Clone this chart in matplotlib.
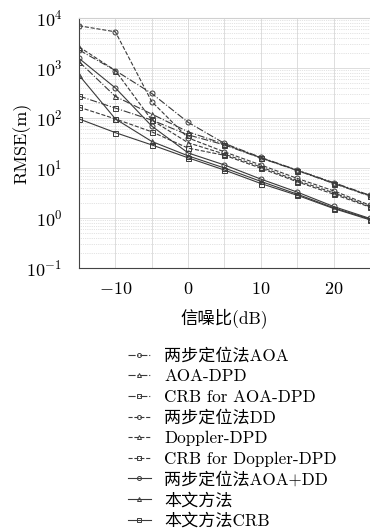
"""RMSE vs SNR comparison of localisation methods (log scale)."""

import matplotlib
matplotlib.use("Agg")
import matplotlib.pyplot as plt
from matplotlib.ticker import LogLocator, MultipleLocator, NullFormatter

plt.rcParams["mathtext.fontset"] = "cm"
plt.rcParams["axes.formatter.use_mathtext"] = True
plt.rcParams["font.family"] = ["cmr10", "Noto Sans CJK SC"]
plt.rcParams["axes.unicode_minus"] = True

snr = [-15, -10, -5, 0, 5, 10, 15, 20, 25]

labels = [
    "两步定位法AOA",
    "AOA-DPD",
    "CRB for AOA-DPD",
    "两步定位法DD",
    "Doppler-DPD",
    "CRB for Doppler-DPD",
    "两步定位法AOA+DD",
    "本文方法",
    "本文方法CRB",
]

two_step_aoa = [2300, 890, 310, 82, 31, 16.3, 9.1, 5.1, 2.85]
aoa_dpd = [1340, 270, 120, 53, 30, 16.0, 9.0, 5.0, 2.8]
crb_aoa_dpd = [275, 158, 91, 46, 29, 15.8, 8.9, 4.9, 2.75]
two_step_dd = [7000, 5300, 213, 40, 21, 11.5, 6.2, 3.5, 1.8]
doppler_dpd = [2650, 890, 91, 32, 19, 10.5, 5.6, 3.2, 1.7]
crb_doppler_dpd = [165, 96, 53, 25, 18, 9.9, 5.3, 3.0, 1.65]
two_step_aoa_dd = [1560, 400, 69, 20, 11.5, 6.0, 3.3, 1.7, 0.98]
proposed = [720, 96, 34, 17.5, 10, 5.4, 3.0, 1.6, 0.95]
proposed_crb = [96, 51, 29, 16, 9.1, 4.9, 2.85, 1.55, 0.92]

series = [
    two_step_aoa, aoa_dpd, crb_aoa_dpd,
    two_step_dd, doppler_dpd, crb_doppler_dpd,
    two_step_aoa_dd, proposed, proposed_crb,
]
styles = ["-."] * 3 + ["--"] * 3 + ["-"] * 3
markers = ["o", "^", "s"] * 3

fig = plt.figure(figsize=(3.7, 5.3), dpi=100)
ax = fig.add_axes([0.2135, 0.4943, 0.7865, 0.4717])

for values, ls, mk, label in zip(series, styles, markers, labels):
    ax.plot(snr, values, linestyle=ls, marker=mk, color="#3a3a3a", lw=0.8,
            markersize=3.6, markerfacecolor="none", markeredgewidth=0.7,
            label=label)

ax.set_yscale("log")
ax.set_xlim(-15, 25)
ax.set_ylim(1e-1, 1e4)
ax.xaxis.set_major_locator(MultipleLocator(10))
ax.xaxis.set_minor_locator(MultipleLocator(5))
ax.yaxis.set_major_locator(LogLocator(base=10, numticks=10))
ax.yaxis.set_minor_locator(LogLocator(base=10, subs=range(2, 10), numticks=50))
ax.yaxis.set_minor_formatter(NullFormatter())

ax.grid(which="major", color="#d8d8d8", lw=0.6, ls="-")
ax.grid(which="minor", axis="y", color="#c8c8c8", lw=0.5, ls=":")
ax.grid(which="minor", axis="x", color="#d8d8d8", lw=0.6, ls="-")
ax.set_axisbelow(True)
ax.tick_params(which="both", direction="in", length=0, labelsize=13)
ax.tick_params(axis="y", pad=12)
ax.tick_params(axis="x", pad=9)

for side in ("left", "bottom"):
    ax.spines[side].set_color("#444444")
    ax.spines[side].set_linewidth(0.8)
ax.spines["top"].set_color("#d0d0d0")
ax.spines["right"].set_visible(False)

ax.set_xlabel("信噪比(dB)", fontsize=12.5, labelpad=8)
ax.set_ylabel("RMSE(m)", fontsize=13, labelpad=0)
ax.yaxis.set_label_coords(-0.162, 0.5)

handles, labs = ax.get_legend_handles_labels()
fig.legend(handles, labs, loc="upper left", bbox_to_anchor=(0.322, 0.359),
           frameon=False, fontsize=12.3, handlelength=1.35, handletextpad=0.8,
           labelspacing=0.3, borderpad=0, markerscale=0.8)

fig.savefig("out.png", dpi=100)
